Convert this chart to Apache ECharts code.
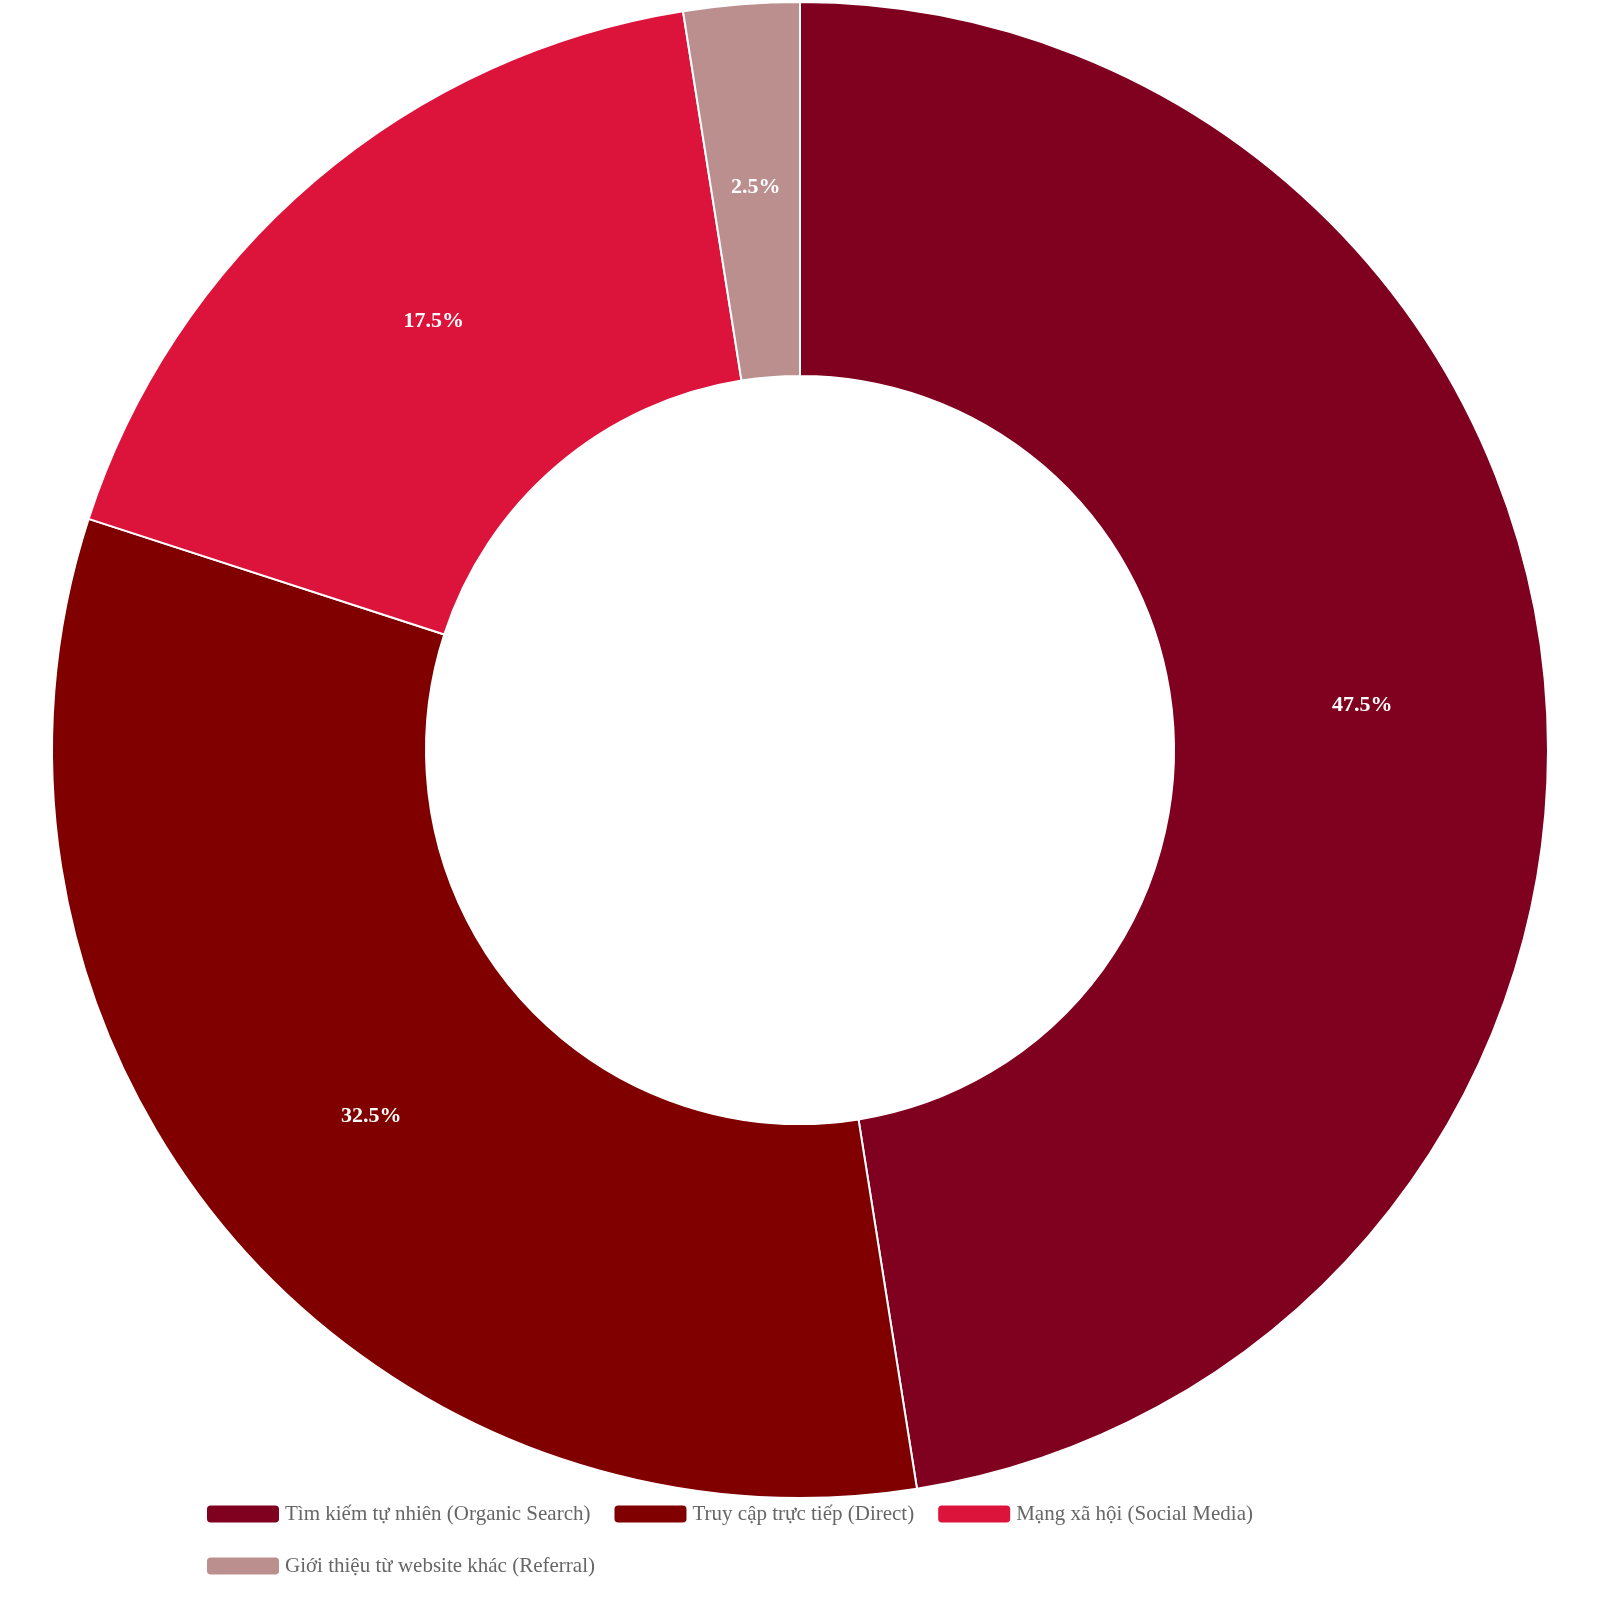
<!DOCTYPE html>
<html>
<head>
<meta charset="utf-8">
<script src="https://cdn.jsdelivr.net/npm/echarts@6/dist/echarts.min.js"></script>
<style>html,body{margin:0;padding:0;background:#fff}#chart{width:1600px;height:1600px}</style>
</head>
<body>
<div id="chart"></div>
<script>
var categories = ['Tìm kiếm tự nhiên (Organic Search)', 'Truy cập trực tiếp (Direct)', 'Mạng xã hội (Social Media)', 'Giới thiệu từ website khác (Referral)'];
var values = [47.5, 32.5, 17.5, 2.5];
var colors = ['#800020', '#800000', '#DC143C', '#BC8F8F'];

var chart = echarts.init(document.getElementById('chart'));
chart.setOption({
  color: colors,
  textStyle: { fontFamily: 'Liberation Serif' },
  legend: {
    top: 1494,
    left: 200,
    right: 200,
    itemWidth: 74,
    itemHeight: 19,
    itemGap: 22,
    textStyle: { fontSize: 21, color: '#666', fontFamily: 'Liberation Serif', lineHeight: 30 },
    data: categories
  },
  series: [{
    type: 'pie',
    center: [800, 750],
    radius: [374, 748],
    startAngle: 90,
    clockwise: true,
    avoidLabelOverlap: false,
    itemStyle: { borderColor: '#fff', borderWidth: 2 },
    label: {
      position: 'inside',
      formatter: '{c}%',
      color: '#fff',
      fontWeight: 'bold',
      fontSize: 22,
      fontFamily: 'Liberation Serif'
    },
    labelLine: { show: false },
    data: categories.map(function (c, i) { return { name: c, value: values[i] }; })
  }]
});
</script>
</body>
</html>
